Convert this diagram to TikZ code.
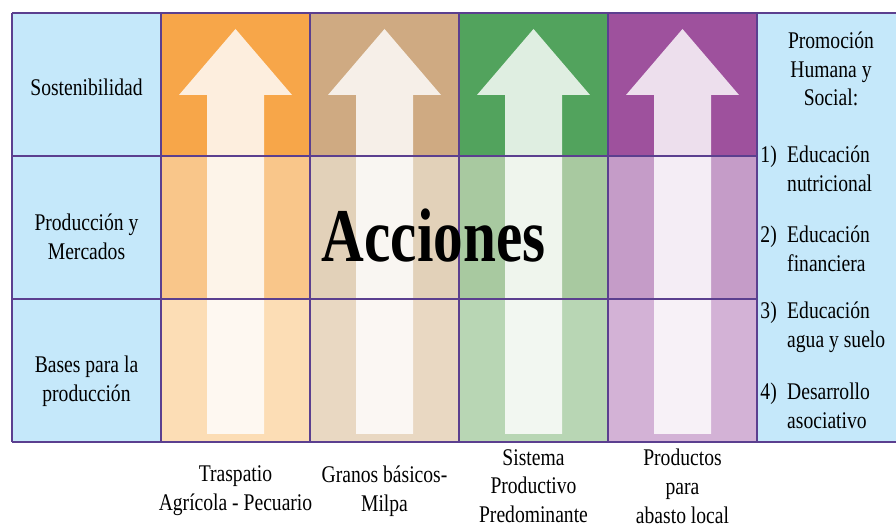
\documentclass[tikz,border=0pt]{standalone}
\usepackage{fontspec}
\setmainfont{Liberation Serif}
\usepackage{tikz}
\usetikzlibrary{calc}

\definecolor{celeste}{HTML}{C5E8FA}
\definecolor{borde}{HTML}{5B3F8F}
\definecolor{naranjaA}{HTML}{F7A649}
\definecolor{naranjaB}{HTML}{F9C68A}
\definecolor{naranjaC}{HTML}{FCDDB5}
\definecolor{cafeA}{HTML}{CFAA82}
\definecolor{cafeB}{HTML}{E2D1B9}
\definecolor{cafeC}{HTML}{E9D8C2}
\definecolor{verdeA}{HTML}{52A35D}
\definecolor{verdeB}{HTML}{A8C9A0}
\definecolor{verdeC}{HTML}{B8D6B4}
\definecolor{moradoA}{HTML}{9E519D}
\definecolor{moradoB}{HTML}{C59CC8}
\definecolor{moradoC}{HTML}{D3B2D6}

\tikzset{
  rejilla/.style={draw=borde,line width=1.4pt},
  flecha/.style={fill=white,fill opacity=0.82},
  texto/.style={font=\fontsize{17}{20.5}\selectfont,align=center,xscale=0.82,inner sep=0pt},
  titulo/.style={font=\bfseries\fontsize{54}{60}\selectfont,xscale=0.78,inner sep=0pt}
}

\begin{document}
\begin{tikzpicture}
	\pgfmathsetmacro{\ancho}{3.725};
	\pgfmathsetmacro{\alto}{3.575};
	\pgfmathsetmacro{\xo}{0.3};
	\pgfmathsetmacro{\yo}{2.175};
	\useasboundingbox (0,0) rectangle (22.4,13.225);

	% fondo celeste
	\fill[celeste] (\xo,\yo) rectangle (22.4,{\yo+3*\alto});

	% columnas y flechas
	\foreach \i/\ca/\cb/\cc in {1/naranjaA/naranjaB/naranjaC,2/cafeA/cafeB/cafeC,3/verdeA/verdeB/verdeC,4/moradoA/moradoB/moradoC}{
		\pgfmathsetmacro{\xi}{\xo+\i*\ancho};
		\pgfmathsetmacro{\xc}{\xo+(\i+0.5)*\ancho};
		\fill[\cc] (\xi,\yo) rectangle ++(\ancho,\alto);
		\fill[\cb] (\xi,{\yo+\alto}) rectangle ++(\ancho,\alto);
		\fill[\ca] (\xi,{\yo+2*\alto}) rectangle ++(\ancho,\alto);
		\fill[flecha] ({\xc-0.7125},2.375) -- ({\xc-0.7125},10.85) -- ({\xc-1.4125},10.85)
			-- (\xc,12.5) -- ({\xc+1.4125},10.85) -- ({\xc+0.7125},10.85) -- ({\xc+0.7125},2.375) -- cycle;
	}

	% rejilla
	\draw[rejilla] (\xo,\yo) -- (22.4,\yo);
	\draw[rejilla] (\xo,{\yo+3*\alto}) -- (22.4,{\yo+3*\alto});
	\draw[rejilla] (\xo,{\yo+\alto}) -- ({\xo+5*\ancho},{\yo+\alto});
	\draw[rejilla] (\xo,{\yo+2*\alto}) -- ({\xo+5*\ancho},{\yo+2*\alto});
	\foreach \i in {0,...,5}
		\draw[rejilla] ({\xo+\i*\ancho},\yo) -- ++(0,{3*\alto});

	% filas
	\node[texto] (sost) at (2.1625,11.05) {Sostenibilidad};
	\node[texto] (prod) at (2.1625,7.3) {Producción y\\Mercados};
	\node[texto] (bases) at (2.1625,3.7) {Bases para la\\producción};

	\node[titulo,anchor=base] (acciones) at (10.84,6.675) {Acciones};

	% promocion
	\node[texto] (promo) at (20.775,11.5) {Promoción\\Humana y\\Social:};
	\node[texto,align=left,anchor=west] (edu1) at (19.675,9.0) {Educación\\nutricional};
	\node[texto,align=left,anchor=west] (edu2) at (19.675,7.0) {Educación\\financiera};
	\node[texto,align=left,anchor=west] (edu3) at (19.675,5.04) {Educación\\agua y suelo};
	\node[texto,align=left,anchor=west] (desa) at (19.675,3.08) {Desarrollo\\asociativo};
	\node[texto,anchor=north east] (n1) at ([xshift=-0.25cm]edu1.north west) {1)};
	\node[texto,anchor=north east] (n2) at ([xshift=-0.25cm]edu2.north west) {2)};
	\node[texto,anchor=north east] (n3) at ([xshift=-0.25cm]edu3.north west) {3)};
	\node[texto,anchor=north east] (n4) at ([xshift=-0.25cm]desa.north west) {4)};

	% columnas abajo
	\node[texto] (trasp) at (5.8875,0.95) {Traspatio\\Agrícola - Pecuario};
	\node[texto] (granos) at (9.6125,0.95) {Granos básicos-\\Milpa};
	\node[texto] (sistema) at (13.3375,1.07) {Sistema\\Productivo\\Predominante};
	\node[texto] (produc) at (17.0625,1.07) {Productos\\para\\abasto local};
\end{tikzpicture}
\end{document}
